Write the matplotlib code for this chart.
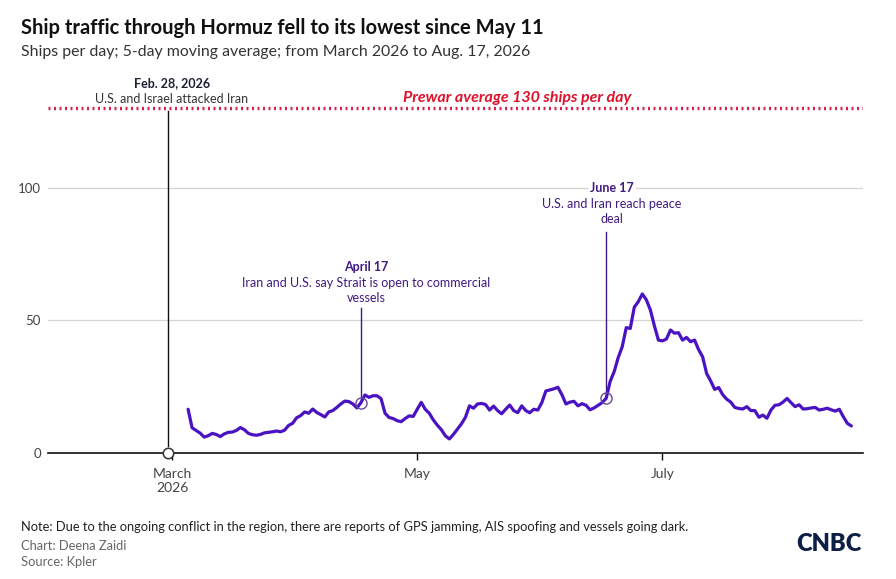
import pandas as pd
import matplotlib.pyplot as plt
import matplotlib.dates as mdates

# 5-day moving average of ships per day, March 5 to Aug. 17, 2026
dates = pd.date_range('2026-03-05', '2026-08-17', freq='D')
ships = [
    16.5, 9.5, 8.5, 7.5, 6.0, 6.5, 7.4, 7.0, 6.2, 7.2,
    7.8, 7.9, 8.5, 9.6, 8.8, 7.4, 6.9, 6.7, 7.0, 7.6,
    7.8, 8.0, 8.3, 8.0, 8.6, 10.4, 11.2, 13.3, 14.1, 15.5,
    15.0, 16.6, 15.3, 14.5, 13.6, 15.5, 16.0, 17.2, 18.5, 19.6,
    19.4, 18.5, 17.0, 19.0, 21.9, 21.0, 21.6, 21.6, 20.5, 15.0,
    13.4, 13.0, 12.2, 11.8, 13.0, 14.0, 13.8, 16.5, 19.1, 16.5,
    15.0, 12.5, 10.5, 8.8, 6.5, 5.3, 7.0, 9.0, 11.0, 13.5,
    17.8, 16.9, 18.5, 18.7, 18.3, 16.2, 17.7, 16.0, 14.8, 16.5,
    18.1, 16.0, 15.2, 17.8, 16.0, 15.2, 16.5, 16.2, 19.0, 23.4,
    23.8, 24.2, 24.8, 22.0, 18.5, 19.2, 19.5, 17.8, 18.6, 18.0,
    16.3, 17.0, 18.0, 19.0, 20.6, 27.0, 30.7, 36.0, 40.1, 47.3,
    47.0, 55.0, 57.1, 60.0, 57.8, 54.0, 48.0, 42.6, 42.3, 43.0,
    46.4, 45.2, 45.4, 42.6, 43.6, 42.0, 42.6, 39.0, 36.3, 30.0,
    27.2, 24.0, 24.7, 22.0, 20.3, 19.2, 17.2, 16.8, 16.6, 17.5,
    16.0, 16.0, 13.5, 14.3, 13.1, 16.2, 18.0, 18.2, 19.2, 20.6,
    19.0, 17.5, 18.2, 16.6, 16.7, 17.0, 17.2, 16.2, 16.5, 16.9,
    16.3, 15.8, 16.5, 13.7, 11.2, 10.2,
]
prewar_avg = 130
war_start = pd.Timestamp('2026-02-28')
events = [pd.Timestamp('2026-04-17'), pd.Timestamp('2026-06-17')]
event_tops = [54.7, 83.4]

tick_dates = [pd.Timestamp('2026-03-01'), pd.Timestamp('2026-05-01'), pd.Timestamp('2026-07-01')]
tick_labels = ['March\n2026', 'May', 'July']
y_ticks = [0, 50, 100]

plt.rcParams['font.family'] = ['Lato', 'DejaVu Sans']

W, H = 896, 579
fig = plt.figure(figsize=(W / 100, H / 100), dpi=100)
ax = fig.add_axes([48 / W, 126 / H, 815 / W, 352.5 / H])

line_col = '#4a12c2'
ann_col = '#3f1a80'

ax.plot(dates, ships, color=line_col, lw=2.3, solid_capstyle='round', zorder=4)

# prewar average
ax.axhline(prewar_avg, color='#d81f4f', lw=2.4, ls=(0, (0.6, 1.05)), zorder=3)

# war start marker
ax.plot([war_start, war_start], [2.5, prewar_avg - 0.8], color='#111111', lw=1.0, zorder=3)
ax.plot([war_start], [0], marker='o', ms=7.5, mfc='white', mec='#333333', mew=1.1,
        clip_on=False, zorder=6)

# event markers
for d, top in zip(events, event_tops):
    v = ships[(d - dates[0]).days]
    ax.plot([d, d], [v + 1.5, top], color=ann_col, lw=1.0, zorder=3)
    ax.plot([d], [v], marker='o', ms=8, mfc='none', mec='#6a4a9a', mew=1.0, zorder=5)

mar1 = pd.Timestamp('2026-03-01')
ax.set_xlim(mdates.date2num(mar1) - 30.85, mdates.date2num(mar1) + 171.9)
ax.set_ylim(0, 133)

ax.set_yticks(y_ticks)
ax.set_xticks(tick_dates)
ax.set_xticklabels(tick_labels)
ax.grid(axis='y', color='#d4d4d4', lw=0.9)
ax.set_axisbelow(True)
for s in ['top', 'right', 'left']:
    ax.spines[s].set_visible(False)
ax.spines['bottom'].set_color('#111111')
ax.spines['bottom'].set_linewidth(1.2)
ax.tick_params(axis='y', length=0, pad=5, labelsize=9.5, labelcolor='#444444')
ax.tick_params(axis='x', length=5, width=1.0, color='#111111', pad=6,
               labelsize=10, labelcolor='#444444')


def px(x, y):
    return x / W, 1 - y / H


# titles
fig.text(*px(21, 28), 'Ship traffic through Hormuz fell to its lowest since May 11',
         fontsize=14.5, fontweight='bold', color='#111111', va='center')
fig.text(*px(21, 52), 'Ships per day; 5-day moving average; from March 2026 to Aug. 17, 2026',
         fontsize=11.4, color='#333333', va='center')

# war annotation
fig.text(*px(172, 83), 'Feb. 28, 2026', fontsize=9, fontweight='bold',
         color='#1c2233', ha='center', va='center')
fig.text(*px(172, 99), 'U.S. and Israel attacked Iran', fontsize=9,
         color='#333333', ha='center', va='center')

fig.text(*px(517, 98), 'Prewar average 130 ships per day', fontsize=11.5,
         fontweight='bold', style='italic', color='#e0112b', ha='center', va='center')

# April 17
fig.text(*px(366, 267), 'April 17', fontsize=9, fontweight='bold',
         color=ann_col, ha='center', va='center')
fig.text(*px(366, 283), 'Iran and U.S. say Strait is open to commercial', fontsize=9,
         color=ann_col, ha='center', va='center')
fig.text(*px(366, 298), 'vessels', fontsize=9, color=ann_col, ha='center', va='center')

# June 17
fig.text(*px(612, 188), 'June 17', fontsize=9, fontweight='bold', color=ann_col,
         ha='center', va='center',
         bbox=dict(facecolor='white', edgecolor='none', pad=1.5))
fig.text(*px(612, 204), 'U.S. and Iran reach peace', fontsize=9,
         color=ann_col, ha='center', va='center')
fig.text(*px(612, 219), 'deal', fontsize=9, color=ann_col, ha='center', va='center')

# footer
fig.text(*px(21, 527), 'Note: Due to the ongoing conflict in the region, there are reports '
         'of GPS jamming, AIS spoofing and vessels going dark.',
         fontsize=9.3, color='#222222', va='center')
fig.text(*px(21, 546), 'Chart: Deena Zaidi', fontsize=9.3, color='#666666', va='center')
fig.text(*px(21, 562), 'Source: Kpler', fontsize=9.3, color='#666666', va='center')
fig.text(*px(862, 544), 'CNBC', fontsize=17, fontweight='heavy', color='#0d1f45',
         ha='right', va='center')

fig.savefig('out.png', dpi=100)
